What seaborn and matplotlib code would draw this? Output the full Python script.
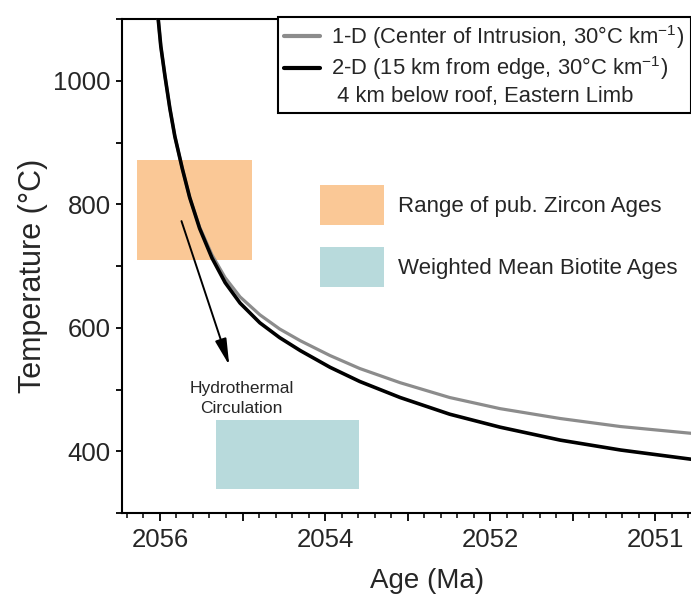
import numpy as np
import pandas as pd
import matplotlib
matplotlib.use("Agg")
import matplotlib.pyplot as plt
import seaborn as sns
from matplotlib.lines import Line2D
from matplotlib.patches import Patch
from matplotlib.ticker import MultipleLocator

# ---------------- data ----------------
age_2d = [2056.05, 2056.02, 2055.99, 2055.94, 2055.88, 2055.82, 2055.73, 2055.64,
          2055.52, 2055.37, 2055.21, 2055.03, 2054.79, 2054.55, 2054.30, 2053.94,
          2053.58, 2053.09, 2052.49, 2051.88, 2051.15, 2050.42, 2049.56, 2049.09]
temp_2d = [1121, 1098, 1056, 1008, 955, 910, 858, 811,
           761, 713, 673, 640, 608, 584, 563, 536,
           513, 487, 460, 439, 418, 402, 387, 379]

age_1d = [2056.05, 2056.02, 2055.99, 2055.94, 2055.88, 2055.82, 2055.73, 2055.64,
          2055.52, 2055.37, 2055.21, 2055.03, 2054.79, 2054.55, 2054.30, 2053.94,
          2053.58, 2053.09, 2052.49, 2051.88, 2051.15, 2050.42, 2049.56, 2049.09]
temp_1d = [1121, 1098, 1056, 1008, 955, 910, 858, 811,
           763, 718, 681, 650, 621, 598, 579, 555,
           534, 511, 487, 469, 453, 440, 429, 423]

zircon_age = [2056.28, 2054.88]
zircon_temp = [709, 872]
biotite_age = [2055.32, 2053.59]
biotite_temp = [339, 450]

arrow_start = (2055.75, 777)
arrow_end = (2055.15, 535)

xtick_values = [2056, 2055, 2054, 2053, 2052, 2051, 2050]
xtick_labels = ["2056", "", "2054", "", "2052", "", "2051"]
ytick_values = [400, 600, 800, 1000]

label_1d = "1-D (Center of Intrusion, 30°C km$^{-1}$)"
label_2d = "2-D (15 km from edge, 30°C km$^{-1}$)"
label_loc = " 4 km below roof, Eastern Limb"
label_zircon = "Range of pub. Zircon Ages"
label_biotite = "Weighted Mean Biotite Ages"

# ---------------- style ----------------
sns.set_style("ticks")
plt.rcParams["font.family"] = ["Liberation Sans", "DejaVu Sans"]
plt.rcParams["mathtext.fontset"] = "custom"
plt.rcParams["mathtext.rm"] = "Liberation Sans"
plt.rcParams["mathtext.it"] = "Liberation Sans:italic"
plt.rcParams["mathtext.default"] = "regular"

orange = "#FAC896"
teal = "#B8DADC"
gray = "#8C8C8C"

W, H = 691, 596
fig = plt.figure(figsize=(W / 100, H / 100), dpi=100)
ax = fig.add_axes([122 / W, 1 - 513 / H, (732 - 122) / W, (513 - 19) / H])

# boxes
ax.fill_between(zircon_age, zircon_temp[0], zircon_temp[1], color=orange, lw=0, zorder=1)
ax.fill_between(biotite_age, biotite_temp[0], biotite_temp[1], color=teal, lw=0, zorder=1)

df1 = pd.DataFrame({"age": age_1d, "temp": temp_1d})
df2 = pd.DataFrame({"age": age_2d, "temp": temp_2d})
sns.lineplot(data=df1, x="age", y="temp", ax=ax, color=gray, linewidth=2.3,
             sort=False, estimator=None, zorder=3, solid_joinstyle="round")
sns.lineplot(data=df2, x="age", y="temp", ax=ax, color="black", linewidth=2.6,
             sort=False, estimator=None, zorder=4, solid_joinstyle="round")

ax.annotate("", xy=arrow_end, xytext=arrow_start,
            arrowprops=dict(arrowstyle="-|>,head_length=1.0,head_width=0.22",
                            color="black", lw=1.4, mutation_scale=16), zorder=5)
ax.text(2055.01, 486, "Hydrothermal\nCirculation", ha="center", va="center",
        fontsize=12.5, linespacing=1.4, zorder=5)

ax.set_xlim(2056.46, 2049.07)
ax.set_ylim(300, 1100)

ax.set_xticks(xtick_values)
ax.set_xticklabels(xtick_labels)
ax.xaxis.set_minor_locator(MultipleLocator(0.2))
ax.set_yticks(ytick_values)
ax.yaxis.set_minor_locator(MultipleLocator(100))

ax.tick_params(axis="x", which="major", direction="out", length=6, width=1.3,
               labelsize=18.5, pad=5, color="black")
ax.tick_params(axis="x", which="minor", direction="out", length=3.5, width=1.1, color="black")
ax.tick_params(axis="y", which="both", direction="out", length=4, width=1.3,
               labelsize=18.5, pad=4, color="black")
ax.tick_params(axis="both", which="both", bottom=True, left=True, top=False, right=False)

for s in ["left", "bottom", "top"]:
    ax.spines[s].set_visible(True)
    ax.spines[s].set_color("black")
    ax.spines[s].set_linewidth(1.5)
ax.spines["right"].set_visible(False)

ax.set_xlabel("Age (Ma)", fontsize=20, labelpad=11)
ax.set_ylabel("Temperature (°C)", fontsize=22, labelpad=6)
ax.yaxis.set_label_coords(-0.122, 0.48)

# legend for the curves
handles = [Line2D([], [], color=gray, lw=3),
           Line2D([], [], color="black", lw=3),
           Line2D([], [], color="none", lw=0)]
leg = fig.legend(handles, [label_1d, label_2d, label_loc], loc="upper left",
                 bbox_to_anchor=(278 / W, 1 - 17 / H), fontsize=15.8,
                 frameon=True, fancybox=False, framealpha=1, edgecolor="black",
                 handlelength=1.65, handletextpad=0.5, labelspacing=0.16,
                 borderpad=0.28, borderaxespad=0)
leg.get_frame().set_linewidth(1.5)

# legend for the boxes
handles2 = [Patch(facecolor=orange, edgecolor="none"), Patch(facecolor=teal, edgecolor="none")]
leg2 = ax.legend(handles2, [label_zircon, label_biotite], loc="upper left",
                 bbox_to_anchor=(320 / W, 1 - 185 / H), bbox_transform=fig.transFigure,
                 fontsize=16, frameon=False, handlelength=2.88, handleheight=2.39,
                 handletextpad=0.62, labelspacing=1.0, borderpad=0, borderaxespad=0)

fig.savefig("out.png", dpi=100)
